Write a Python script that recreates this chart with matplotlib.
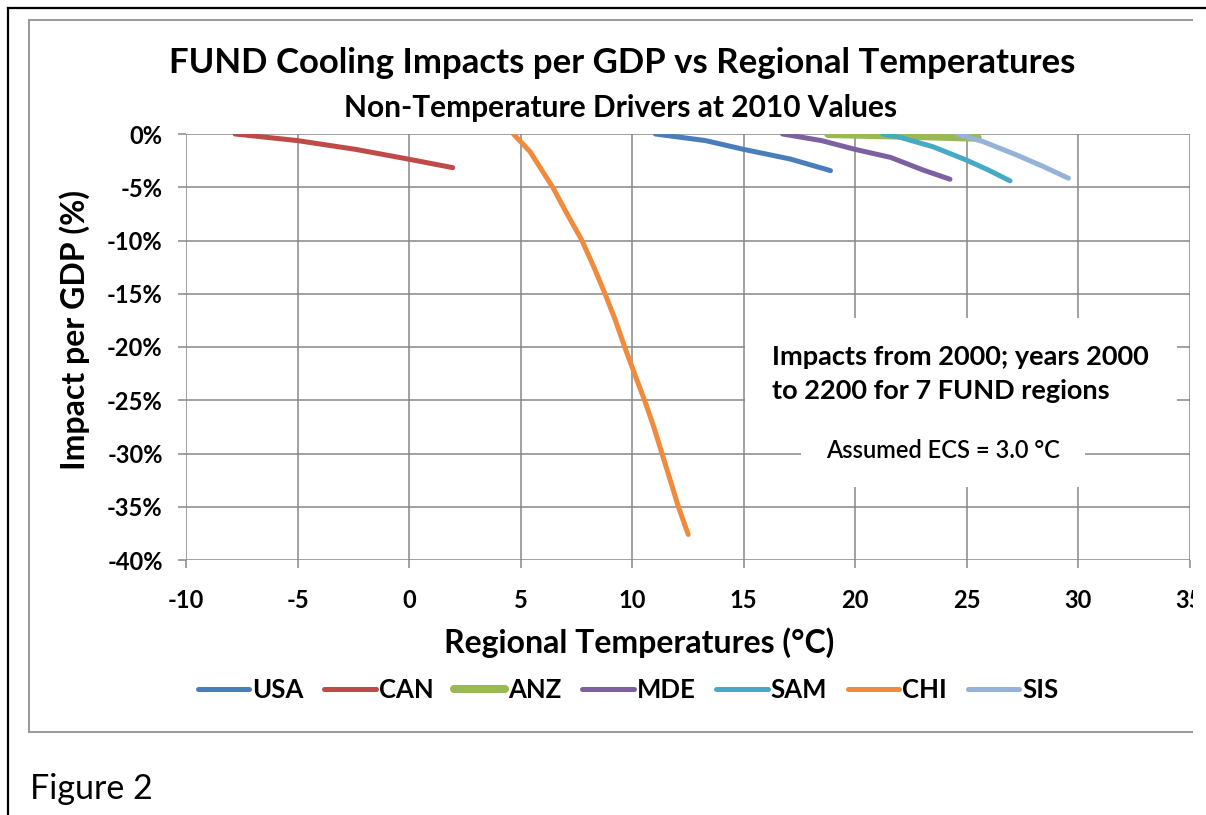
import matplotlib
matplotlib.use("Agg")
import matplotlib.pyplot as plt
from matplotlib.lines import Line2D
from matplotlib.patches import Rectangle

plt.rcParams['font.family'] = ['Lato', 'DejaVu Sans']

# --- data (temperature degC, impact % of GDP) ---
usa_t = [11.05, 13.3, 15.0, 17.1, 18.9]
usa_v = [0.0, -0.62, -1.44, -2.35, -3.44]

can_t = [-7.8, -5.0, -2.4, 0.0, 1.96]
can_v = [0.0, -0.62, -1.44, -2.37, -3.16]

anz_t = [18.8, 20.5, 22.0, 23.8, 25.5]
anz_v = [0.0, -0.08, -0.15, -0.25, -0.35]

mde_t = [16.75, 18.5, 20.0, 21.6, 23.05, 24.26]
mde_v = [0.0, -0.62, -1.44, -2.2, -3.38, -4.25]

sam_t = [21.25, 22.0, 23.5, 25.0, 26.0, 26.95]
sam_v = [0.0, -0.3, -1.2, -2.45, -3.4, -4.4]

chi_t = [4.68, 5.43, 6.47, 7.07, 7.74, 8.27, 8.79, 9.24, 9.69, 10.13,
         10.58, 10.96, 11.33, 11.70, 12.08, 12.52]
chi_v = [0.0, -1.66, -5.09, -7.43, -9.93, -12.4, -15.0, -17.4, -20.1, -22.6,
         -25.1, -27.4, -29.9, -32.4, -35.0, -37.6]

sis_t = [24.6, 25.75, 27.25, 28.45, 29.57]
sis_v = [0.0, -0.72, -1.97, -3.06, -4.15]

x_ticks = [-10, -5, 0, 5, 10, 15, 20, 25, 30, 35]
x_labels = ["-10", "-5", "0", "5", "10", "15", "20", "25", "30", "35"]
y_ticks = [0, -5, -10, -15, -20, -25, -30, -35, -40]
y_labels = ["0%", "-5%", "-10%", "-15%", "-20%", "-25%", "-30%", "-35%", "-40%"]

series = [
    ("USA", usa_t, usa_v, "#4A7EBB", 3.6),
    ("CAN", can_t, can_v, "#BE4B48", 3.6),
    ("ANZ", anz_t, anz_v, "#98B954", 5.8),
    ("MDE", mde_t, mde_v, "#7D60A0", 3.6),
    ("SAM", sam_t, sam_v, "#46AAC5", 3.6),
    ("CHI", chi_t, chi_v, "#F08A3C", 3.6),
    ("SIS", sis_t, sis_v, "#95B3D7", 3.6),
]

W, H = 1206, 815
fig = plt.figure(figsize=(W / 100, H / 100), dpi=100)
fig.patch.set_facecolor("white")

def fx(px):
    return px / W

def fy(py):
    return 1 - py / H

ax = fig.add_axes([fx(186), fy(560), fx(1189.5) - fx(186), fy(134) - fy(560)])

grid_c = "#878787"
for name, t, v, c, lw in series:
    ax.plot(t, v, color=c, lw=lw, solid_capstyle="round", label=name, zorder=3)

ax.set_xlim(-10, 35)
ax.set_ylim(-40, 0)
ax.set_xticks(x_ticks)
ax.set_xticklabels(x_labels, fontweight="bold", fontsize=17)
ax.set_yticks(y_ticks)
ax.set_yticklabels(y_labels, fontweight="bold", fontsize=17)
ax.grid(True, color=grid_c, lw=1.1, zorder=1)
for s in ax.spines.values():
    s.set_visible(False)
ax.tick_params(axis="both", direction="out", length=8 * 0.72, width=1.1,
               color=grid_c)
ax.tick_params(axis="x", pad=15)
ax.tick_params(axis="y", pad=11)

ax.set_xlabel("Regional Temperatures (°C)", fontsize=23, fontweight="bold")
ax.xaxis.label.set_va("center")
ax.xaxis.set_label_coords((639 - 186) / 1003.5, (560 - 643) / 426)
ax.set_ylabel("Impact per GDP (%)", fontsize=23, fontweight="bold")
ax.yaxis.label.set_va("center")
ax.yaxis.set_label_coords((75 - 186) / 1003.5, (560 - 330) / 426)

# annotation boxes (white background hides the gridlines)
ax.text(16.3, -25.3, "Impacts from 2000; years 2000\nto 2200 for 7 FUND regions",
        fontsize=19.5, fontweight="bold", ha="left", va="bottom", linespacing=1.5,
        bbox=dict(facecolor="white", edgecolor="none", pad=20), zorder=4)
ax.text((943 - 186) / 1003.5, (560 - 450) / 426, "Assumed ECS = 3.0 °C",
        transform=ax.transAxes, fontsize=17, fontweight="semibold",
        ha="center", va="center",
        bbox=dict(facecolor="white", edgecolor="none", pad=18), zorder=5)

# titles
fig.text(fx(622), fy(63), "FUND Cooling Impacts per GDP vs Regional Temperatures",
         fontsize=25, fontweight="bold", ha="center", va="center")
fig.text(fx(621), fy(108), "Non-Temperature Drivers at 2010 Values",
         fontsize=21.5, fontweight="bold", ha="center", va="center")

leg = ax.legend(loc="center", bbox_to_anchor=(fx(628), fy(690)),
                bbox_transform=fig.transFigure, ncol=7, frameon=False,
                prop=dict(size=18.5, weight="bold"), handlelength=2.0,
                handletextpad=0.12, columnspacing=0.8)

# frames: inner grey chart box and outer black figure box
fig.add_artist(Rectangle((fx(29), fy(732)), fx(1200) - fx(29), fy(20) - fy(732),
                         transform=fig.transFigure, facecolor="none",
                         edgecolor="#9A9A9A", lw=1.4, zorder=0))
fig.add_artist(Rectangle((fx(1193), 0), 1 - fx(1193), fy(11),
                         transform=fig.transFigure, facecolor="white",
                         edgecolor="none", zorder=10))
fig.add_artist(Line2D([fx(8), fx(8)], [0, fy(8)], transform=fig.transFigure,
                      color="black", lw=1.6, zorder=11))
fig.add_artist(Line2D([fx(8), 1], [fy(8), fy(8)], transform=fig.transFigure,
                      color="black", lw=1.6, zorder=11))

fig.text(fx(30), fy(789), "Figure 2", fontsize=24.5, ha="left", va="center")

fig.savefig("out.png", dpi=100)
